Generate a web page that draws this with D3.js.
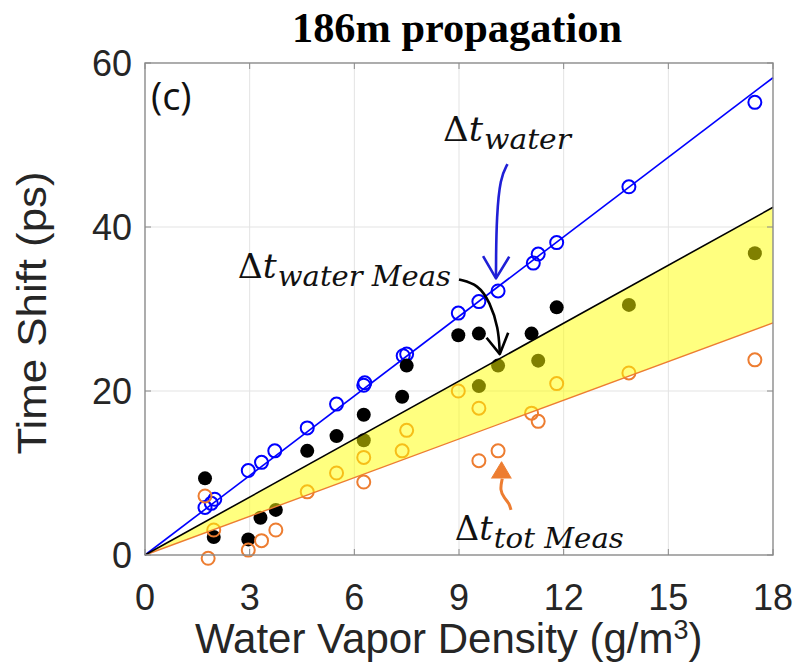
<!DOCTYPE html>
<html>
<head>
<meta charset="utf-8">
<script src="https://cdn.jsdelivr.net/npm/d3@7.9.0/dist/d3.min.js"></script>
<style>
  html, body { margin: 0; padding: 0; background: #fff; }
  svg { display: block; }
</style>
</head>
<body>
<div id="chart"></div>
<script>
// values
const xTicks = [0, 3, 6, 9, 12, 15, 18];
const yTicks = [0, 20, 40, 60];

const waterX = [1.72, 1.9, 2.0, 2.96, 3.34, 3.72, 4.65, 5.49, 6.27, 6.3, 7.4, 7.5, 8.98, 9.57, 10.12, 11.13, 11.27, 11.8, 13.87, 17.48];
const waterY = [5.8, 6.3, 6.8, 10.3, 11.3, 12.7, 15.5, 18.4, 20.7, 21.0, 24.3, 24.5, 29.5, 30.9, 32.2, 35.6, 36.7, 38.1, 44.9, 55.2];

const measX = [1.72, 1.97, 2.96, 3.31, 3.75, 4.65, 5.49, 6.27, 6.27, 7.37, 7.5, 8.98, 9.57, 9.57, 10.12, 11.08, 11.27, 11.8, 13.87, 17.48];
const measY = [9.35, 2.2, 1.9, 4.55, 5.5, 12.7, 14.5, 17.1, 14.0, 19.3, 23.1, 26.8, 27.0, 20.6, 23.1, 27.0, 23.7, 30.2, 30.5, 36.8];

const totX = [1.72, 1.97, 1.81, 2.96, 3.34, 3.75, 4.65, 5.49, 6.27, 6.27, 7.37, 7.5, 8.98, 9.57, 9.57, 10.12, 11.08, 11.27, 11.8, 13.87, 17.48];
const totY = [7.2, 3.05, -0.4, 0.6, 1.75, 3.05, 7.7, 10.0, 8.9, 11.9, 12.7, 15.2, 20.0, 17.9, 11.5, 12.7, 17.3, 16.3, 20.9, 22.2, 23.8];

// fitted lines, end points
const fitX = [0, 18];
const waterFit = [0, 58.2];
const measFit = [0, 42.4];
const totFit = [0, 28.3];

const BLUE = '#0000ff';
const ORANGE = '#ed7d31';
const AXIS = '#262626';

const width = 798, height = 666;
const margin = { top: 63, right: 25, bottom: 111, left: 145 };

const svg = d3.select('#chart').append('svg')
  .attr('width', width)
  .attr('height', height)
  .attr('viewBox', `0 0 ${width} ${height}`);

svg.append('rect').attr('width', width).attr('height', height).attr('fill', '#fff');

const x = d3.scaleLinear().domain([0, 18]).range([margin.left, width - margin.right]);
const y = d3.scaleLinear().domain([0, 60]).range([height - margin.bottom, margin.top]);

// grid
svg.append('g').attr('class', 'grid')
  .selectAll('line.gx').data(xTicks.slice(1, -1)).join('line')
  .attr('x1', (d) => x(d)).attr('x2', (d) => x(d))
  .attr('y1', y(0)).attr('y2', y(60))
  .attr('stroke', '#e3e3e3').attr('stroke-width', 1);
svg.select('.grid')
  .selectAll('line.gy').data(yTicks.slice(1, -1)).join('line')
  .attr('class', 'gy')
  .attr('x1', x(0)).attr('x2', x(18))
  .attr('y1', (d) => y(d)).attr('y2', (d) => y(d))
  .attr('stroke', '#e3e3e3').attr('stroke-width', 1);

const pairs = (xs, ys) => xs.map((v, i) => [v, ys[i]]);
const line = d3.line().x((d) => x(d[0])).y((d) => y(d[1]));

// water line + circles
svg.append('path').datum(pairs(fitX, waterFit))
  .attr('d', line).attr('fill', 'none').attr('stroke', BLUE).attr('stroke-width', 1.6);
svg.append('g').selectAll('circle').data(pairs(waterX, waterY)).join('circle')
  .attr('cx', (d) => x(d[0])).attr('cy', (d) => y(d[1])).attr('r', 6.5)
  .attr('fill', 'none').attr('stroke', BLUE).attr('stroke-width', 2);

// measured water shift (filled black)
svg.append('g').selectAll('circle').data(pairs(measX, measY)).join('circle')
  .attr('cx', (d) => x(d[0])).attr('cy', (d) => y(d[1])).attr('r', 7)
  .attr('fill', '#000');

// total measured (open orange)
svg.append('g').selectAll('circle').data(pairs(totX, totY)).join('circle')
  .attr('cx', (d) => x(d[0])).attr('cy', (d) => y(d[1])).attr('r', 6.5)
  .attr('fill', 'none').attr('stroke', ORANGE).attr('stroke-width', 2);

// yellow band between the two fits, drawn on top, half transparent
const band = fitX.map((v, i) => ({ x: v, hi: measFit[i], lo: totFit[i] }));
svg.append('path').datum(band)
  .attr('d', d3.area().x((d) => x(d.x)).y0((d) => y(d.lo)).y1((d) => y(d.hi)))
  .attr('fill', '#ffff00').attr('fill-opacity', 0.5);

svg.append('path').datum(pairs(fitX, totFit))
  .attr('d', line).attr('fill', 'none').attr('stroke', ORANGE).attr('stroke-width', 1.4);
svg.append('path').datum(pairs(fitX, measFit))
  .attr('d', line).attr('fill', 'none').attr('stroke', '#000').attr('stroke-width', 1.6);

// axes box with inward ticks
const box = svg.append('g');
box.append('rect')
  .attr('x', x(0)).attr('y', y(60))
  .attr('width', x(18) - x(0)).attr('height', y(0) - y(60))
  .attr('fill', 'none').attr('stroke', '#8a8a8a').attr('stroke-width', 1.4);
const tl = 6;
box.selectAll('line.tx').data(xTicks).join('line')
  .attr('x1', (d) => x(d)).attr('x2', (d) => x(d))
  .attr('y1', y(0)).attr('y2', y(0) - tl)
  .attr('stroke', '#8a8a8a');
box.selectAll('line.tx2').data(xTicks).join('line')
  .attr('class', 'tx2')
  .attr('x1', (d) => x(d)).attr('x2', (d) => x(d))
  .attr('y1', y(60)).attr('y2', y(60) + tl)
  .attr('stroke', '#8a8a8a');
box.selectAll('line.ty').data(yTicks).join('line')
  .attr('class', 'ty')
  .attr('x1', x(0)).attr('x2', x(0) + tl)
  .attr('y1', (d) => y(d)).attr('y2', (d) => y(d))
  .attr('stroke', '#8a8a8a');
box.selectAll('line.ty2').data(yTicks).join('line')
  .attr('class', 'ty2')
  .attr('x1', x(18)).attr('x2', x(18) - tl)
  .attr('y1', (d) => y(d)).attr('y2', (d) => y(d))
  .attr('stroke', '#8a8a8a');

// tick labels
const tickFont = '"Liberation Sans", Arial, sans-serif';
svg.append('g').selectAll('text').data(xTicks).join('text')
  .attr('x', (d) => x(d)).attr('y', 610)
  .attr('text-anchor', 'middle')
  .attr('font-family', tickFont).attr('font-size', 36).attr('fill', AXIS)
  .text((d) => d);
svg.append('g').selectAll('text').data(yTicks).join('text')
  .attr('x', 132).attr('y', (d) => y(d)).attr('dy', '0.36em')
  .attr('text-anchor', 'end')
  .attr('font-family', tickFont).attr('font-size', 36).attr('fill', AXIS)
  .text((d) => d);

// axis labels
const xl = svg.append('text')
  .attr('x', 195).attr('y', 653)
  .attr('font-family', tickFont).attr('font-size', 42).attr('fill', AXIS);
xl.append('tspan').text('Water Vapor Density (g/m');
xl.append('tspan').attr('font-size', 27).attr('dy', -14).text('3');
xl.append('tspan').attr('dy', 14).text(')');

svg.append('text')
  .attr('transform', 'translate(46, 313) rotate(-90)')
  .attr('text-anchor', 'middle')
  .attr('font-family', tickFont).attr('font-size', 40).attr('fill', AXIS)
  .attr('textLength', 283).attr('lengthAdjust', 'spacingAndGlyphs')
  .text('Time Shift (ps)');

// title
svg.append('text')
  .attr('x', 457).attr('y', 42)
  .attr('text-anchor', 'middle')
  .attr('font-family', '"Liberation Serif", "Times New Roman", serif')
  .attr('font-weight', 'bold').attr('font-size', 42)
  .attr('textLength', 330).attr('lengthAdjust', 'spacingAndGlyphs')
  .text('186m propagation');

// panel tag
svg.append('text')
  .attr('x', x(0.17)).attr('y', 110)
  .attr('font-family', '"Open Sans", "Liberation Sans", sans-serif')
  .attr('font-size', 38).attr('fill', '#111')
  .text('(c)');

// delta-t annotations (placed in data units)
const serif = '"DejaVu Serif", "Liberation Serif", serif';
function deltaLabel(ax, ay, mainW, sub, subW) {
  const g = svg.append('g');
  g.append('text')
    .attr('x', x(ax)).attr('y', y(ay))
    .attr('font-family', serif).attr('font-size', 33).attr('fill', '#111')
    .attr('textLength', mainW).attr('lengthAdjust', 'spacingAndGlyphs')
    .html('Δ<tspan font-style="italic">t</tspan>');
  g.append('text')
    .attr('x', x(ax) + mainW + 1).attr('y', y(ay) + 8)
    .attr('font-family', serif).attr('font-style', 'italic')
    .attr('font-size', 27).attr('fill', '#111')
    .attr('textLength', subW).attr('lengthAdjust', 'spacingAndGlyphs')
    .text(sub);
}
deltaLabel(8.54, 50.5, 40, 'water', 87);
deltaLabel(2.66, 33.8, 39, 'water Meas', 173);
deltaLabel(8.88, 1.8, 38, 'tot Meas', 130);

// arrows
const curve = d3.line().x((d) => x(d[0])).y((d) => y(d[1])).curve(d3.curveBasis);
const blueArrow = '#1f1fd6';
svg.append('path')
  .datum([[10.39, 47.68], [10.18, 46.0], [10.08, 41.3], [10.06, 36.0], [10.06, 33.8]])
  .attr('d', curve).attr('fill', 'none').attr('stroke', blueArrow).attr('stroke-width', 2.6);
svg.append('path')
  .datum([[9.69, 36.46], [10.06, 33.74], [10.44, 36.38]])
  .attr('d', line).attr('fill', 'none').attr('stroke', blueArrow).attr('stroke-width', 2.6)
  .attr('stroke-linejoin', 'round');

svg.append('path')
  .datum([[9.0, 33.6], [9.55, 33.0], [9.89, 30.8], [10.13, 27.7], [10.17, 24.6]])
  .attr('d', curve).attr('fill', 'none').attr('stroke', '#000').attr('stroke-width', 2.6);
svg.append('path')
  .datum([[9.79, 26.5], [10.17, 24.5], [10.41, 27.1]])
  .attr('d', line).attr('fill', 'none').attr('stroke', '#000').attr('stroke-width', 2.6)
  .attr('stroke-linejoin', 'round');

svg.append('path')
  .datum([[10.49, 5.49], [10.44, 6.3], [10.3, 6.93], [10.17, 7.9], [10.24, 9.3]])
  .attr('d', curve).attr('fill', 'none').attr('stroke', ORANGE).attr('stroke-width', 3);
svg.append('path')
  .datum([[9.93, 9.34], [10.22, 11.38], [10.5, 9.34]])
  .attr('d', line).attr('fill', ORANGE).attr('stroke', ORANGE)
  .attr('stroke-width', 1).attr('stroke-linejoin', 'round');
</script>
</body>
</html>
